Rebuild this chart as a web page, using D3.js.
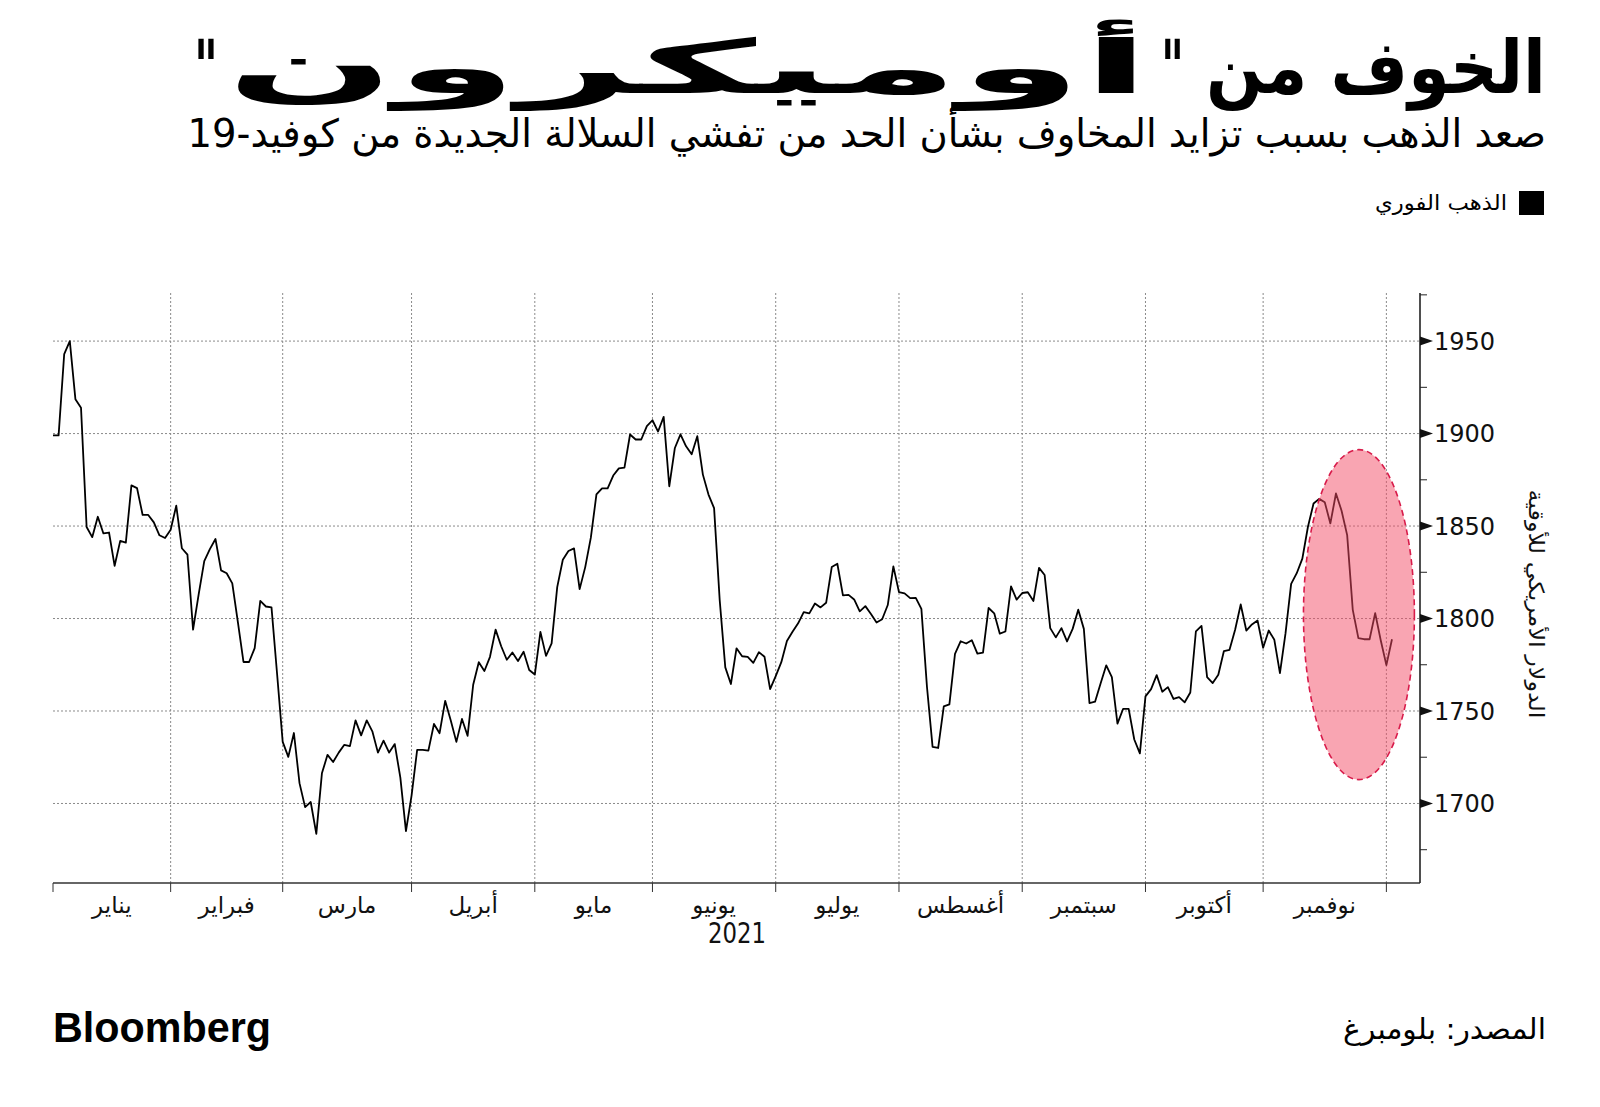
<!DOCTYPE html>
<html><head><meta charset="utf-8">
<script src="https://cdn.jsdelivr.net/npm/d3@7/dist/d3.min.js"></script>
<style>
html,body{margin:0;padding:0;background:#fff;}
svg{display:block;}
text{font-family:"DejaVu Sans",sans-serif;}
</style></head>
<body>
<svg id="chart" width="1600" height="1107"></svg>
<script>
// ---- data (weekday index 0 = 1 Jan 2021) ----
const values = [
1899,1899,1943,1950,1918.6,1914,1849.5,1844,1855,1846,1846.5,1828.5,1842,1841,1872,1870.5,1856,1856,1852,1845,1843.5,
1848,1861,1838,1834.5,1794,1813,1831,1837.5,1843,1826,1824.5,1819,1798,1776.5,1776.5,1784,1809.5,1806.5,1806,1770,
1733.3,1725.2,1738.1,1711,1698,1700.8,1683.6,1716.3,1726.3,1722.4,1727.5,1731.7,1731,1744.9,1736.8,1744.9,1739,1727.5,1734,1727.5,1732.1,1714,1685,
1704.3,1729,1729,1728.6,1743,1738,1755.5,1744.9,1733.3,1745.7,1736.6,1764.2,1776.4,1771.6,1779.3,1794,1785,1777.7,1781.6,1777,1782,1772.2,
1769.7,1792.8,1779.8,1786.6,1817,1831.8,1836.5,1837.9,1815.9,1827.8,1843.7,1867.1,1870.4,1870.4,1877.3,1881.2,1881.6,1899.5,1896.8,1896.8,1904,
1907.2,1901.1,1909,1871.5,1892.2,1899.6,1893.1,1888.8,1898.6,1877.8,1867,1859.7,1810,1773.6,1764.6,1783.9,1779.6,1779.3,1776,1781.8,1779.3,1761.8,
1768.9,1776.4,1787.8,1792.8,1797.4,1803.5,1802.8,1808.1,1806,1808.5,1827.8,1829.6,1812.5,1812.8,1810.3,1803.9,1806.7,1802.4,1797.8,1799.6,1807.3,1828.2,
1814.3,1813.6,1811,1811.2,1805.2,1763,1730.6,1730,1752.5,1753.6,1780.9,1787.7,1786.5,1788.3,1781,1781.6,1805.7,1802.8,1791.8,1793,1817.4,1810.2,
1813.8,1814.2,1809.5,1827.4,1823.5,1794.8,1789.8,1794.8,1787.6,1794.4,1804.8,1794.4,1754.3,1755,1765,1774.7,1768.3,1743.2,1751.1,1751.1,1734.6,1727.1,
1757.9,1761.8,1769.4,1760.4,1762.9,1756.5,1757.5,1754.7,1760,1793.1,1796,1768.3,1765.1,1769.6,1782.4,1783.1,1793.9,1807.6,1793.5,1796.8,1798.9,
1784.2,1793.5,1788.5,1770.5,1792.1,1818.7,1824.5,1832.4,1849.6,1862.2,1864.7,1862.9,1851.4,1867.6,1858.3,1845.1,1804.7,1789.4,1788.8,1788.8,1802.9,1788.1,
1774.8,1788.8
];
const monthLabels = ["يناير","فبراير","مارس","أبريل","مايو","يونيو","يوليو","أغسطس","سبتمبر","أكتوبر","نوفمبر"];
const monthStartIdx = [0,21,41,64,86,107,129,151,173,195,216,238];
const yTicks = [1700,1750,1800,1850,1900,1950];
const yMinorTicks = [1675,1725,1775,1825,1875,1925,1975];
const highlight = {x0:223.2, x1:243.0, y0:1712.9, y1:1891.3};

const titleParts = ["الخوف من", "\"", "أوميكرون", "\""];
const subtitleText = "صعد الذهب بسبب تزايد المخاوف بشأن الحد من تفشي السلالة الجديدة من كوفيد-19";
const legendText = "الذهب الفوري";
const yAxisTitle = "الدولار الأمريكي للأوقية";
const yearText = "2021";
const sourceText = "المصدر: بلومبرغ";

(function(){
const svg = d3.select("#chart");
const pL = 53, pR = 1420, pT = 293, pB = 883;
const x = d3.scaleLinear().domain([0,244]).range([pL,pR]);
const y = d3.scaleLinear().domain([1657,1976]).range([pB,pT]);

svg.append("rect").attr("width",1600).attr("height",1107).attr("fill","#fff");

// text placed, then horizontally scaled so its box spans [xl, xr]
function fitText(txt, xl, xr, yb, size, weight, family){
  const g = svg.append("g");
  const t = g.append("text").attr("x",0).attr("y",yb)
    .attr("direction","rtl").attr("text-anchor","start")
    .style("font-size",size+"px").style("font-weight",weight).attr("fill","#000").text(txt);
  if(family) t.style("font-family",family).attr("direction","ltr");
  const bb = t.node().getBBox();
  const sx = (xr-xl)/bb.width;
  g.attr("transform",`translate(${xl - sx*bb.x},0) scale(${sx},1)`);
  return t;
}
const titleSpans = [[1206,1546],[1161,1184],[226,1150],[194,218]];
titleParts.forEach((w,i)=>fitText(w, titleSpans[i][0], titleSpans[i][1], 93, 74, "bold"));
fitText(subtitleText, 187, 1546, 147, 39, "normal");

// legend
svg.append("rect").attr("x",1519).attr("y",191).attr("width",25).attr("height",24).attr("fill","#000");
fitText(legendText, 1375, 1507, 210, 21, "normal");

// gridlines
const grid = svg.append("g");
grid.selectAll("line.h").data(yTicks).join("line")
  .attr("x1",pL).attr("x2",pR).attr("y1",d=>y(d)).attr("y2",d=>y(d))
  .attr("stroke","#8a8a8a").attr("stroke-width",1).attr("stroke-dasharray","2,2");
grid.selectAll("line.v").data(monthStartIdx.slice(1)).join("line")
  .attr("x1",d=>x(d)).attr("x2",d=>x(d)).attr("y1",pT).attr("y2",pB)
  .attr("stroke","#8a8a8a").attr("stroke-width",1).attr("stroke-dasharray","2,2");

// line
const line = d3.line().x((d,i)=>x(i)).y(d=>y(d));
svg.append("path").datum(values).attr("d",line)
  .attr("fill","none").attr("stroke","#000").attr("stroke-width",1.8).attr("stroke-linejoin","round");

// highlight ellipse
svg.append("ellipse")
  .attr("cx",(x(highlight.x0)+x(highlight.x1))/2)
  .attr("cy",(y(highlight.y0)+y(highlight.y1))/2)
  .attr("rx",(x(highlight.x1)-x(highlight.x0))/2)
  .attr("ry",(y(highlight.y0)-y(highlight.y1))/2)
  .attr("fill","rgba(244,76,102,0.5)")
  .attr("stroke","#d81b4a").attr("stroke-width",1.6).attr("stroke-dasharray","6,4");

// x axis
const ax = svg.append("g");
ax.append("line").attr("x1",pL).attr("x2",pR).attr("y1",pB).attr("y2",pB)
  .attr("stroke","#333").attr("stroke-width",1.5);
ax.selectAll("line.t").data(monthStartIdx).join("line")
  .attr("x1",d=>x(d)).attr("x2",d=>x(d)).attr("y1",pB).attr("y2",pB+9)
  .attr("stroke","#333").attr("stroke-width",1);
ax.selectAll("text.m").data(monthLabels).join("text")
  .attr("x",(d,i)=>x((monthStartIdx[i]+monthStartIdx[i+1])/2))
  .attr("y",913).attr("text-anchor","middle").attr("direction","rtl")
  .style("font-size","23px").attr("fill","#111").text(d=>d);
svg.append("text").attr("x",737).attr("y",943).attr("text-anchor","middle")
  .style("font-size","29px").attr("textLength",58).attr("lengthAdjust","spacingAndGlyphs")
  .attr("fill","#111").text(yearText);

// y axis
const ay = svg.append("g");
ay.append("line").attr("x1",pR).attr("x2",pR).attr("y1",pT).attr("y2",pB)
  .attr("stroke","#222").attr("stroke-width",1.6);
ay.selectAll("path.tri").data(yTicks).join("path")
  .attr("d",d=>`M${pR},${y(d)-4.5}L${pR+13},${y(d)}L${pR},${y(d)+4.5}Z`)
  .attr("fill","#111");
ay.selectAll("line.mt").data(yMinorTicks).join("line")
  .attr("x1",pR).attr("x2",pR+7).attr("y1",d=>y(d)).attr("y2",d=>y(d))
  .attr("stroke","#222").attr("stroke-width",1);
ay.selectAll("text.yl").data(yTicks).join("text")
  .attr("x",1434).attr("y",d=>y(d)).attr("dy","0.36em")
  .style("font-size","24px").attr("fill","#111").text(d=>d);
svg.append("text").attr("transform","translate(1536,604) rotate(90)")
  .attr("text-anchor","middle").attr("dy","0.35em").attr("direction","rtl")
  .attr("textLength",229).attr("lengthAdjust","spacingAndGlyphs")
  .style("font-size","21px").attr("fill","#111").text(yAxisTitle);

// footer
fitText("Bloomberg", 53, 271, 1042, 42, "bold", "'Liberation Sans',Arial,sans-serif");
fitText(sourceText, 1343, 1546, 1039, 29, "normal");
})();
</script>
</body></html>
